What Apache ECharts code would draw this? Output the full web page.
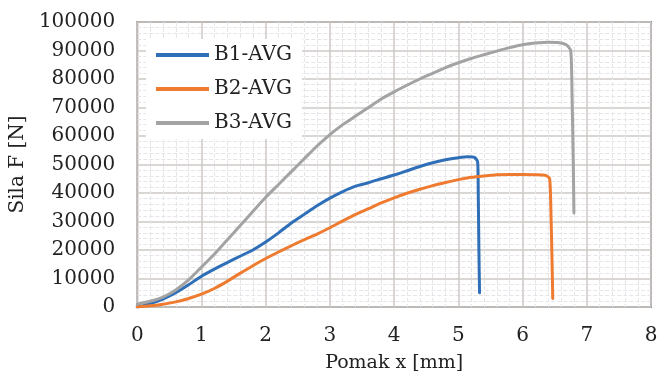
<!DOCTYPE html>
<html>
<head>
<meta charset="utf-8">
<script src="https://cdn.jsdelivr.net/npm/echarts@6/dist/echarts.min.js"></script>
<style>html,body{margin:0;padding:0;background:#fff}#c{width:662px;height:379px}</style>
</head>
<body>
<div id="c"></div>
<script>
var seriesNames = ['B1-AVG', 'B2-AVG', 'B3-AVG'];
var xTicks = [0, 1, 2, 3, 4, 5, 6, 7, 8];
var yTicks = [0, 10000, 20000, 30000, 40000, 50000, 60000, 70000, 80000, 90000, 100000];
var b1 = [[0,0],[0.2,1200],[0.4,2800],[0.6,5000],[0.8,7800],[1.0,10800],[1.2,13300],[1.4,15600],[1.6,17800],[1.8,20000],[2.0,22800],[2.2,26000],[2.4,29500],[2.6,32500],[2.8,35500],[3.0,38200],[3.2,40500],[3.4,42400],[3.6,43600],[3.8,45000],[4.0,46300],[4.2,47800],[4.4,49300],[4.6,50600],[4.8,51700],[5.0,52400],[5.15,52700],[5.25,52500],[5.3,51000],[5.31,40000],[5.32,20000],[5.33,5000]];
var b2 = [[0,0],[0.2,400],[0.4,1000],[0.6,1800],[0.8,3000],[1.0,4500],[1.2,6500],[1.4,9000],[1.6,11800],[1.8,14500],[2.0,17000],[2.2,19300],[2.4,21500],[2.6,23600],[2.8,25600],[3.0,27800],[3.2,30200],[3.4,32500],[3.6,34500],[3.8,36500],[4.0,38300],[4.2,39900],[4.4,41300],[4.6,42600],[4.8,43700],[5.0,44700],[5.2,45500],[5.4,46000],[5.6,46400],[5.8,46500],[6.0,46500],[6.2,46400],[6.35,46200],[6.42,45200],[6.44,35000],[6.46,15000],[6.47,3000]];
var b3 = [[0,1000],[0.2,2000],[0.4,3500],[0.6,6000],[0.8,9500],[1.0,14000],[1.2,18500],[1.4,23500],[1.6,28500],[1.8,33500],[2.0,38500],[2.2,43000],[2.4,47500],[2.6,52000],[2.8,56500],[3.0,60500],[3.2,64000],[3.4,67000],[3.6,70000],[3.8,73000],[4.0,75500],[4.2,77800],[4.4,80000],[4.6,82000],[4.8,84000],[5.0,85700],[5.2,87200],[5.4,88500],[5.6,89800],[5.8,91000],[6.0,92000],[6.2,92600],[6.4,92900],[6.55,92800],[6.68,92000],[6.75,90000],[6.77,75000],[6.79,50000],[6.8,33000]];
var colors = ['#2f6fb8', '#ee7b30', '#a3a3a3'];

var font = 'DejaVu Serif';
var chart = echarts.init(document.getElementById('c'));
var mk = function (name, data, i) {
  return {
    name: name, type: 'line', data: data, showSymbol: false, smooth: 0.2,
    lineStyle: { width: 3, color: colors[i], cap: 'round', join: 'round' },
    itemStyle: { color: colors[i] }
  };
};
chart.setOption({
  animation: false,
  backgroundColor: '#fff',
  color: colors,
  grid: { left: 136, right: 11, top: 22, bottom: 72, show: true, borderColor: '#8a8a8a', borderWidth: 2, backgroundColor: '#fff' },
  legend: {
    orient: 'vertical', left: 146, top: 39,
    backgroundColor: '#fff', padding: [6, 10, 6, 10],
    itemWidth: 53, itemHeight: 4, itemGap: 14,
    icon: 'rect',
    textStyle: { fontFamily: font, fontSize: 20, color: '#222' },
    data: seriesNames
  },
  xAxis: {
    type: 'value', min: xTicks[0], max: xTicks[xTicks.length - 1], interval: 1,
    name: 'Pomak x [mm]', nameLocation: 'middle', nameGap: 47,
    nameTextStyle: { fontFamily: font, fontSize: 19, color: '#222' },
    axisLine: { show: false }, axisTick: { show: false },
    axisLabel: { fontFamily: font, fontSize: 20, color: '#222', margin: 19 },
    splitLine: { show: true, lineStyle: { color: '#cdc9c6', width: 1.5 } },
    minorTick: { show: false, splitNumber: 5 },
    minorSplitLine: { show: true, lineStyle: { color: '#e6e6ea', width: 1, type: 'dashed' } }
  },
  yAxis: {
    type: 'value', min: yTicks[0], max: yTicks[yTicks.length - 1], interval: 10000,
    name: 'Sila F [N]', nameLocation: 'middle', nameGap: 107, nameRotate: 90,
    nameTextStyle: { fontFamily: font, fontSize: 20, color: '#222' },
    axisLine: { show: false }, axisTick: { show: false },
    axisLabel: { fontFamily: font, fontSize: 20, color: '#222', margin: 22, formatter: function (v) { return String(v); } },
    splitLine: { show: true, lineStyle: { color: '#cdc9c6', width: 1.5 } },
    minorTick: { show: false, splitNumber: 5 },
    minorSplitLine: { show: true, lineStyle: { color: '#e6e6ea', width: 1, type: 'dashed' } }
  },
  series: [mk(seriesNames[0], b1, 0), mk(seriesNames[1], b2, 1), mk(seriesNames[2], b3, 2)]
});
</script>
</body>
</html>
